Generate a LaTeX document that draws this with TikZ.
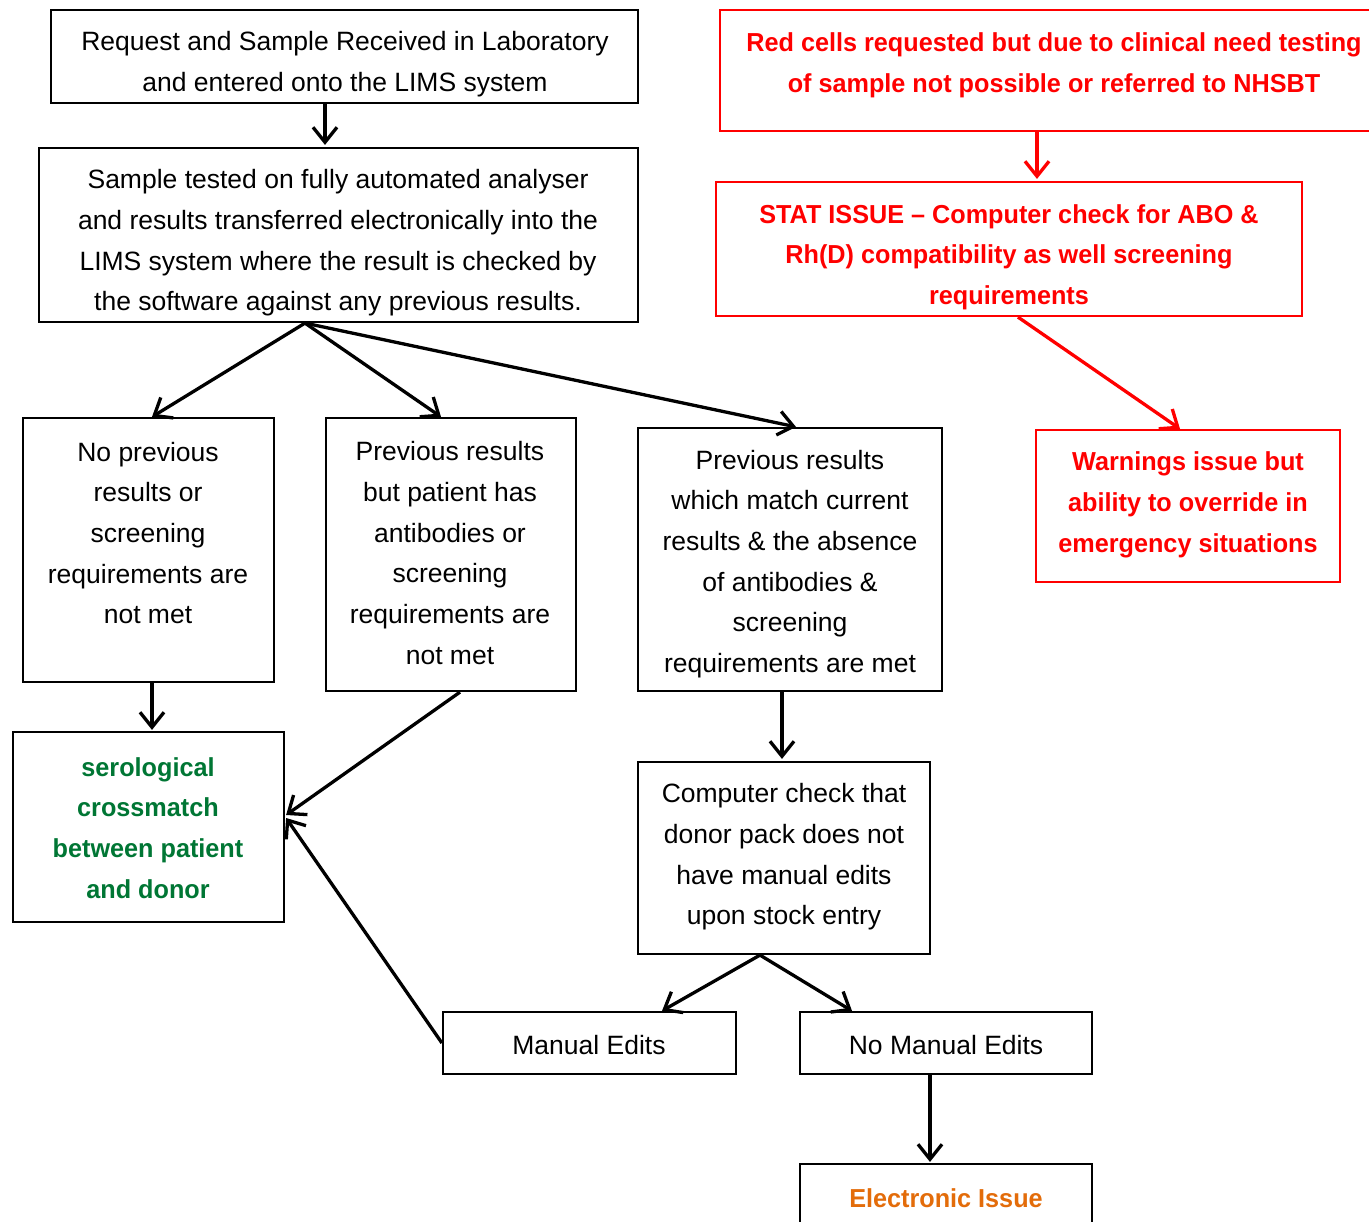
\documentclass[tikz,border=0pt]{standalone}
\usepackage{fontspec}
\setmainfont{Liberation Sans}
\newfontfamily\nb[FakeStretch=0.97]{Liberation Sans Bold}
\usetikzlibrary{arrows.meta,calc}
\definecolor{rd}{RGB}{255,0,0}
\definecolor{gn}{RGB}{0,118,52}
\definecolor{og}{RGB}{227,108,10}
\tikzset{
  box/.style={draw=black,line width=2.2pt,rectangle,inner sep=0pt},
  rbox/.style={draw=rd,line width=2.2pt,rectangle,inner sep=0pt},
  txt/.style={align=center,inner sep=0pt,font=\fontsize{26.5}{40.7}\selectfont},
  rtxt/.style={align=center,inner sep=0pt,text=rd,font=\fontsize{26}{40.7}\selectfont\nb},
  arr/.style={draw=black,line width=3.3pt,-{Straight Barb[length=15pt,width=24pt,line width=3.3pt]}},
  rarr/.style={draw=rd,line width=3.3pt,-{Straight Barb[length=15pt,width=24pt,line width=3.3pt]}}
}
\begin{document}
\begin{tikzpicture}[x=1pt,y=-1pt]
\useasboundingbox (0,0) rectangle (1369,1222);
\clip (0,0) rectangle (1369,1222);
% boxes
\node[box,minimum width=587pt,minimum height=93pt] (A) at (344.5,56.5) {};
\node[box,minimum width=599pt,minimum height=174pt] (B) at (338.5,235) {};
\node[box,minimum width=251pt,minimum height=264pt] (C) at (148.5,550) {};
\node[box,minimum width=250pt,minimum height=273pt] (D) at (451,554.5) {};
\node[box,minimum width=304pt,minimum height=263pt] (E) at (790,559.5) {};
\node[box,minimum width=271pt,minimum height=190pt] (F) at (148.5,827) {};
\node[box,minimum width=292pt,minimum height=192pt] (G) at (784,858) {};
\node[box,minimum width=293pt,minimum height=62pt] (H) at (589.5,1043) {};
\node[box,minimum width=292pt,minimum height=62pt] (I) at (946,1043) {};
\node[box,minimum width=292pt,minimum height=80pt] (J) at (946,1204) {};
\node[rbox,minimum width=680pt,minimum height=121pt] (R1) at (1060,70.5) {};
\node[rbox,minimum width=586pt,minimum height=134pt] (R2) at (1009,249) {};
\node[rbox,minimum width=304pt,minimum height=152pt] (R3) at (1188,506) {};
% texts
\node[txt] (At) at (345,64) {Request and Sample Received in Laboratory\\and entered onto the LIMS system};
\node[txt] (Bt) at (338,243) {Sample tested on fully automated analyser\\and results transferred electronically into the\\LIMS system where the result is checked by\\the software against any previous results.};
\node[txt] (Ct) at (148,533) {No previous\\results or\\screening\\requirements are\\not met};
\node[txt] (Dt) at (450,553) {Previous results\\but patient has\\antibodies or\\screening\\requirements are\\not met};
\node[txt] (Et) at (790,564) {Previous results\\which match current\\results \& the absence\\of antibodies \&\\screening\\requirements are met};
\node[txt,text=gn,font=\fontsize{26}{40.7}\selectfont\nb] (Ft) at (148,828) {serological\\crossmatch\\between patient\\and donor};
\node[txt] (Gt) at (784,857) {Computer check that\\donor pack does not\\have manual edits\\upon stock entry};
\node[txt] (Ht) at (589,1045) {Manual Edits};
\node[txt] (It) at (946,1045) {No Manual Edits};
\node[txt,text=og,font=\fontsize{26}{40.7}\selectfont\nb] (Jt) at (946,1198) {Electronic Issue};
\node[rtxt] (R1t) at (1054,65) {Red cells requested but due to clinical need testing\\of sample not possible or referred to NHSBT};
\node[rtxt] (R2t) at (1009,257) {STAT ISSUE – Computer check for ABO \&\\Rh(D) compatibility as well screening\\requirements};
\node[rtxt] (R3t) at (1188,505) {Warnings issue but\\ability to override in\\emergency situations};
% connectors
\draw[arr] ([xshift=-19.5pt]A.south) -- ([xshift=-13.5pt,yshift=2pt]B.north);
\draw[arr] ([xshift=-33.5pt]B.south) -- ([xshift=3.5pt]C.north);
\draw[arr] ([xshift=-33.5pt]B.south) -- ([xshift=-10pt]D.north);
\draw[arr] ([xshift=-33.5pt]B.south) -- ([xshift=6pt]E.north);
\draw[arr] ([xshift=3.5pt]C.south) -- ([xshift=3.5pt,yshift=1pt]F.north);
\draw[arr] ([xshift=9pt]D.south) -- ([yshift=12pt,xshift=1pt]F.east);
\draw[arr] (H.west) -- ([yshift=9pt,xshift=1pt]F.east);
\draw[arr] ([xshift=-8pt]E.south) -- ([xshift=-2pt,yshift=2pt]G.north);
\draw[arr] ([xshift=-24pt]G.south) -- ([xshift=72.5pt]H.north);
\draw[arr] ([xshift=-24pt]G.south) -- ([xshift=-94pt]I.north);
\draw[arr] ([xshift=-16pt]I.south) -- ([xshift=-16pt,yshift=1pt]J.north);
\draw[rarr] ([xshift=-23pt]R1.south) -- ([xshift=28pt,yshift=2pt]R2.north);
\draw[rarr] ([xshift=9pt]R2.south) -- ([xshift=-8pt]R3.north);
\end{tikzpicture}
\end{document}
